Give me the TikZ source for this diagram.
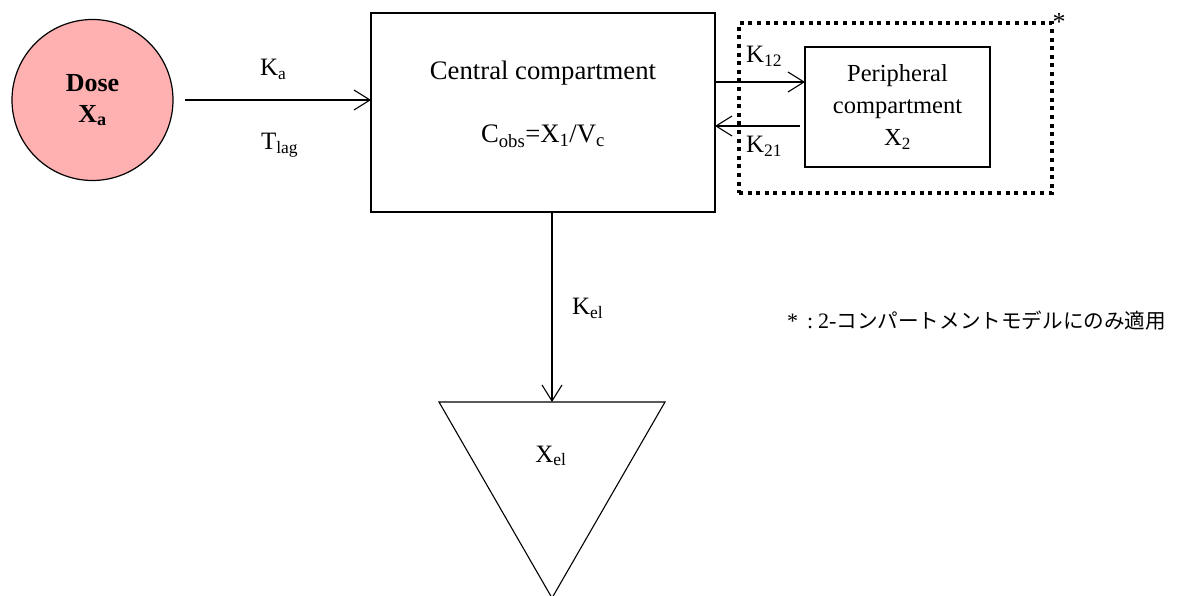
\documentclass[tikz,border=0pt]{standalone}
\usepackage{fontspec}
\setmainfont{Liberation Serif}
\newfontfamily\cjkfont{Noto Sans CJK JP}
\usetikzlibrary{arrows.meta}
\definecolor{dosepink}{RGB}{255,176,176}
\begin{document}
\begin{tikzpicture}[x=1pt,y=-1pt,
  every node/.style={inner sep=0pt,outer sep=0pt},
  lbl/.style={font=\fontsize{25}{30}\selectfont},
  boxed/.style={draw,line width=1.3pt},
  arr/.style={line width=1.1pt,-{Straight Barb[length=16pt,width=20pt,line width=1.1pt]}},
  dotbox/.style={draw,line width=3.3pt,dash pattern=on 4pt off 4.6pt}]
\useasboundingbox (0,0) rectangle (1179,596);
% Dose
\node[circle,draw,line width=1.2pt,fill=dosepink,minimum size=161pt,align=center,
  font=\fontsize{26}{31}\selectfont\bfseries] (dose) at (92.5,100) {Dose\\X\textsubscript{a}};
% central compartment
\node[boxed,minimum width=344pt,minimum height=199pt] (central) at (543,112.5) {};
\node[font=\fontsize{26.7}{31}\selectfont,anchor=base] (ctitle) at (543,80) {Central compartment};
\node[font=\fontsize{26.7}{31}\selectfont,anchor=base] (ceq) at (543,143) {C\textsubscript{obs}=X\textsubscript{1}/V\textsubscript{c}};
% dose arrow
\draw[arr] ([xshift=12pt]dose.east) -- (dose.east -| central.west);
\node[lbl,anchor=base west] (ka) at (260,76) {K\textsubscript{a}};
\node[lbl,anchor=base west] (tlag) at (261,150) {T\textsubscript{lag}};
% peripheral
\node[dotbox,minimum width=313pt,minimum height=170pt] (dotted) at (895.5,108) {};
\node[anchor=center,font=\fontsize{26}{30}\selectfont] (star) at (1059,22) {*};
\node[boxed,minimum width=185pt,minimum height=120pt,align=center,
  font=\fontsize{24.5}{32}\selectfont] (periph) at (897.5,107) {Peripheral\\compartment\\X\textsubscript{2}};
\draw[arr] ([yshift=25pt]periph.west -| central.east) -- ([yshift=25pt]periph.west);
\draw[arr] ([xshift=-5pt,yshift=-19pt]periph.west) -- ([yshift=-19pt]periph.west -| central.east);
\node[lbl,anchor=base west] (k12) at (746,63) {K\textsubscript{12}};
\node[lbl,anchor=base west] (k21) at (746,153) {K\textsubscript{21}};
% elimination
\coordinate (tl) at (439,402);
\coordinate (tr) at (665,402);
\coordinate (ttop) at (552,402);
\coordinate (tb) at (552,598);
\draw[line width=1.1pt,line join=miter] (tl) -- (tr) -- (tb) -- cycle;
\draw[arr] (ttop |- central.south) -- (ttop);
\node[lbl,anchor=base west] (kel) at (572,315) {K\textsubscript{el}};
\node[lbl,anchor=base] (xel) at (551,462) {X\textsubscript{el}};
% footnote
\node[anchor=base west,font=\fontsize{22}{26}\selectfont] (note) at (787,329) {*\hspace{9pt}:\hspace{5pt}2-{\fontsize{20.6}{26}\selectfont\cjkfont コンパートメントモデルにのみ適用}};
\end{tikzpicture}
\end{document}
